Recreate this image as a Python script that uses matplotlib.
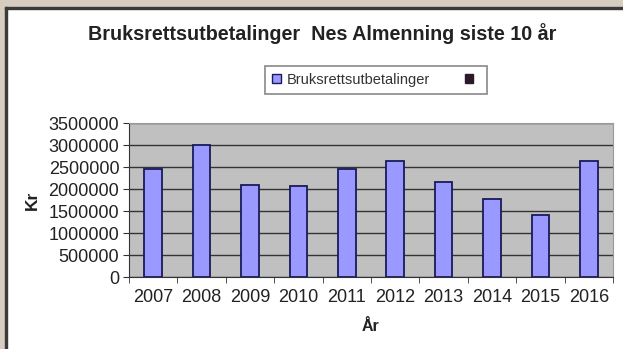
import matplotlib
matplotlib.use("Agg")
import matplotlib.pyplot as plt
from matplotlib.patches import Rectangle, Patch
import numpy as np

years = ["2007", "2008", "2009", "2010", "2011", "2012", "2013", "2014", "2015", "2016"]
values = [2460000, 3010000, 2080000, 2060000, 2460000, 2640000, 2150000, 1780000, 1420000, 2630000]
yticks = [0, 500000, 1000000, 1500000, 2000000, 2500000, 3000000, 3500000]

plt.rcParams['font.family'] = ['Liberation Sans', 'DejaVu Sans']

W, H = 623, 349
fig = plt.figure(figsize=(W / 100, H / 100), dpi=100)
fig.patch.set_facecolor("white")

# outer frame (beige strips + dark edge)
beige = "#d6cdc0"
fig.add_artist(Rectangle((0, 0), 5 / W, 1, transform=fig.transFigure, color=beige, zorder=0))
fig.add_artist(Rectangle((0, 1 - 7 / H), 1, 7 / H, transform=fig.transFigure, color=beige, zorder=0))
fig.add_artist(Rectangle((5 / W, 0), 2 / W, 1 - 7 / H, transform=fig.transFigure, color="#3a3a3a", zorder=1))
fig.add_artist(Rectangle((5 / W, 1 - 9 / H), 1 - 5 / W, 2 / H, transform=fig.transFigure, color="#3a3a3a", zorder=1))

ax = fig.add_axes([129 / W, 1 - 277 / H, (613 - 129) / W, (277 - 123) / H])
ax.set_facecolor("#c0c0c0")
x = np.arange(len(years))
bars = ax.bar(x, values, width=0.36, color="#9999ff", edgecolor="#1a1a5a", linewidth=1.3, zorder=3,
              label="Bruksrettsutbetalinger")
ax.set_xlim(-0.5, len(years) - 0.5)
ax.set_ylim(0, 3500000)
ax.set_yticks(yticks)
ax.set_yticklabels([str(v) for v in yticks])
ax.yaxis.grid(True, color="#333333", linewidth=1.0, zorder=1)
ax.set_axisbelow(True)
ax.set_xticks(x)
ax.set_xticklabels(years)
ax.set_xticks(np.arange(-0.5, len(years), 1.0), minor=True)
ax.tick_params(axis="x", which="major", length=0, pad=9, labelsize=13, labelcolor="#222222")
ax.tick_params(axis="x", which="minor", length=4, color="#333333", direction="out")
ax.tick_params(axis="y", length=4, color="#333333", labelsize=13, labelcolor="#222222", pad=3)
for s in ["top", "right"]:
    ax.spines[s].set_color("#9a9a9a")
for s in ["left", "bottom"]:
    ax.spines[s].set_color("#333333")

ax.set_xlabel("År", fontsize=11.5, fontweight="bold", labelpad=9, color="#222222")
ax.set_ylabel("Kr", fontsize=12.5, fontweight="bold", labelpad=6, color="#222222")

fig.text(322 / W, 1 - 34 / H, "Bruksrettsutbetalinger  Nes Almenning siste 10 år", ha="center", va="center",
         fontsize=14.2, fontweight="bold", color="#222222")

handles = [Patch(facecolor="#9999ff", edgecolor="#1a1a5a"), Patch(facecolor="#2a1a2a", edgecolor="#2a1a2a")]
leg = fig.legend(handles, ["Bruksrettsutbetalinger", ""], loc="center",
                 bbox_to_anchor=(375.5 / W, 1 - 80 / H), ncol=2, fontsize=10.5, frameon=True,
                 fancybox=False, edgecolor="#777777", handlelength=0.6, handleheight=0.6,
                 handletextpad=0.4, columnspacing=2.4, borderpad=0.5)
leg.get_frame().set_linewidth(1.3)
for t in leg.get_texts():
    t.set_color("#333333")

fig.savefig("out.png", dpi=100)
